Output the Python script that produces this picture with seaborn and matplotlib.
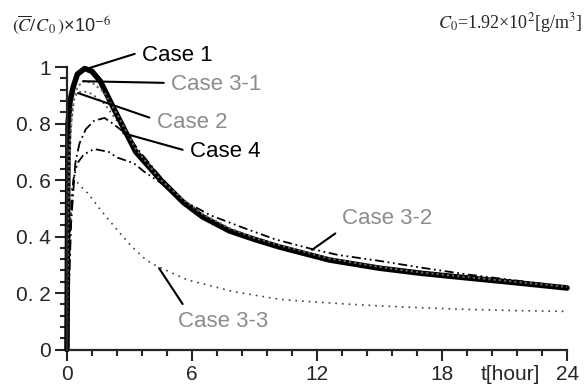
import numpy as np
import pandas as pd
import matplotlib
matplotlib.use('Agg')
import matplotlib.pyplot as plt
import seaborn as sns
from matplotlib.ticker import AutoMinorLocator

# time axis values [hour] and normalized concentration for each case
t_case1 = [0, 0.05, 0.15, 0.3, 0.5, 0.85, 1.2, 1.6, 2.2, 3.3, 4.5, 5.6, 6.5, 7.8, 9, 10.2, 12.6, 15, 17, 19.3, 21.5, 24]
v_case1 = [0, 0.8, 0.88, 0.93, 0.975, 0.995, 0.985, 0.95, 0.86, 0.70, 0.60, 0.52, 0.47, 0.42, 0.39, 0.363, 0.317, 0.288, 0.27, 0.253, 0.237, 0.218]

t_case31 = [0, 0.1, 0.3, 0.5, 0.8, 1.2, 1.8, 2.5, 3.3, 4.5, 5.6, 6.5, 7.8, 9, 10.2, 12.6, 15, 17, 19.3, 21.5, 24]
v_case31 = [0, 0.7, 0.88, 0.93, 0.95, 0.945, 0.91, 0.82, 0.71, 0.60, 0.53, 0.48, 0.43, 0.395, 0.37, 0.322, 0.292, 0.273, 0.256, 0.24, 0.222]

t_case2 = [0, 0.08, 0.2, 0.35, 0.5, 0.8, 1.2, 1.8, 2.5, 3.3, 4.5, 5.6, 6.5, 7.8, 9, 10.2, 12.6, 15, 17, 19.3, 21.5, 24]
v_case2 = [0, 0.55, 0.8, 0.89, 0.91, 0.915, 0.905, 0.87, 0.80, 0.70, 0.60, 0.52, 0.475, 0.425, 0.392, 0.365, 0.32, 0.29, 0.272, 0.255, 0.238, 0.22]

t_case4 = [0, 0.2, 0.4, 0.6, 0.9, 1.3, 1.8, 2.2, 2.9, 3.5, 4.5, 5.6, 6.5, 7.8, 9, 10.2, 12.6, 15, 17, 19.3, 21.5, 24]
v_case4 = [0, 0.45, 0.66, 0.73, 0.78, 0.81, 0.82, 0.80, 0.76, 0.70, 0.61, 0.525, 0.475, 0.425, 0.393, 0.366, 0.32, 0.29, 0.272, 0.255, 0.239, 0.22]

t_case32 = [0, 0.15, 0.3, 0.5, 0.8, 1.3, 2.0, 2.4, 3.2, 3.7, 4.5, 5.5, 6.9, 8.5, 10, 11.7, 13, 14.9, 17, 19.3, 21.5, 23.3, 24]
v_case32 = [0, 0.45, 0.6, 0.66, 0.69, 0.71, 0.70, 0.68, 0.66, 0.63, 0.59, 0.53, 0.475, 0.43, 0.39, 0.357, 0.335, 0.315, 0.29, 0.265, 0.245, 0.228, 0.222]

t_case33 = [0, 0.1, 0.25, 0.4, 0.7, 1.0, 1.25, 1.6, 2.0, 2.45, 3.1, 3.8, 4.2, 4.95, 5.8, 6.4, 8, 10.2, 11.2, 13, 14.9, 17, 19.3, 21.5, 24]
v_case33 = [0, 0.4, 0.58, 0.6, 0.575, 0.553, 0.53, 0.495, 0.46, 0.42, 0.365, 0.317, 0.30, 0.274, 0.246, 0.235, 0.205, 0.178, 0.172, 0.163, 0.155, 0.148, 0.142, 0.138, 0.135]

x_ticks = [0, 6, 12, 18, 24]
y_ticks = [0, 0.2, 0.4, 0.6, 0.8, 1.0]
y_tick_labels = ['0', '0. 2', '0. 4', '0. 6', '0. 8', '1']

sns.set_style('ticks')
plt.rcParams['font.family'] = ['Liberation Sans', 'DejaVu Sans']
plt.rcParams['mathtext.fontset'] = 'stix'

fig = plt.figure(figsize=(5.84, 3.91), dpi=100)
ax = fig.add_axes([0.1147, 0.106, 0.8563, 0.7224])

# (t, v, colour, linewidth, linestyle) for each curve, drawn back to front
curves = [
    (t_case33, v_case33, '0.25', 1.2, (0, (1, 3))),
    (t_case32, v_case32, 'black', 1.3, (0, (5, 2, 1, 2, 1, 2))),
    (t_case4, v_case4, 'black', 1.3, (0, (6, 2, 1, 2))),
    (t_case2, v_case2, '0.3', 1.3, (0, (1, 2))),
    (t_case1, v_case1, 'black', 4.0, '-'),
    (t_case31, v_case31, '0.4', 1.5, (0, (1, 1.5))),
]
for t, v, c, lw, ls in curves:
    df = pd.DataFrame({'t': t, 'v': v})
    sns.lineplot(data=df, x='t', y='v', ax=ax, color=c, lw=lw, linestyle=ls,
                 clip_on=False, errorbar=None)

ax.set_xlim(0, 24)
ax.set_ylim(0, 1)
ax.set_xticks(x_ticks)
ax.set_xticklabels([str(x) for x in x_ticks])
ax.set_yticks(y_ticks)
ax.set_yticklabels(y_tick_labels)
ax.xaxis.set_minor_locator(AutoMinorLocator(5))
ax.yaxis.set_minor_locator(AutoMinorLocator(5))
ax.tick_params(axis='x', which='major', direction='out', length=8, width=1.5, labelsize=15, pad=3)
ax.tick_params(axis='x', which='minor', direction='out', length=4, width=1.5)
ax.tick_params(axis='y', which='major', direction='out', length=8.5, width=1.5, labelsize=15, pad=3)
ax.tick_params(axis='y', which='minor', direction='out', length=5, width=1.5)
ax.set_xlabel('')
ax.set_ylabel('')
sns.despine(ax=ax)
for s in ['left', 'bottom']:
    ax.spines[s].set_linewidth(1.6)

ax.text(21.27, -0.09, 't[hour]', ha='center', va='center', fontsize=15)

# labels with leader lines
labels = [
    ('Case 1', (1.0, 0.995), (3.6, 1.04), 'black', (0, 0.7)),
    ('Case 3-1', (0.77, 0.95), (5.0, 0.94), '0.55', (0, 0.55)),
    ('Case 2', (0.53, 0.908), (4.3, 0.805), '0.55', (0, 0.6)),
    ('Case 4', (2.7, 0.766), (5.9, 0.70), 'black', (0, 0.5)),
    ('Case 3-2', (11.76, 0.353), (13.2, 0.465), '0.55', (0, 0.0)),
    ('Case 3-3', (4.42, 0.288), (5.33, 0.10), '0.55', (0.1, 1.0)),
]
for txt, xy, xytext, c, rp in labels:
    ax.annotate(txt, xy=xy, xytext=xytext, ha='left', va='center', fontsize=16, color=c,
                arrowprops=dict(arrowstyle='-', color='black', lw=1.5, shrinkA=3, shrinkB=0, relpos=rp),
                annotation_clip=False)

fig.text(0.0205, 0.936, r'$(\overline{C}/C_{\,0}\,)$' + '×10$^{-6}$', ha='left', va='center', fontsize=13)
fig.text(0.9966, 0.941, r'$C_0$' + '=1.92×10$^2$[g/m$^3$]', ha='right', va='center', fontsize=13,
         family=['Liberation Serif', 'DejaVu Serif'])

fig.savefig('out.png', dpi=100)
